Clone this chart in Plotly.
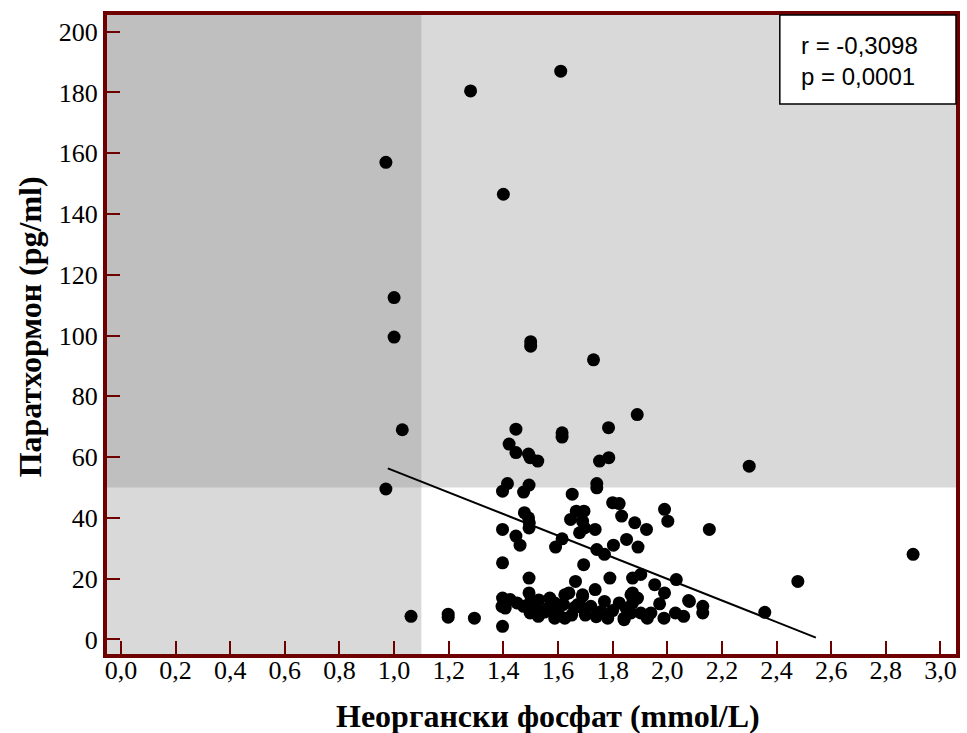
import plotly.graph_objects as go

# ---- data ----
phosphate = [
    0.97, 1.28, 1.40, 1.61, 1.00, 1.00, 1.50, 1.50, 1.73, 1.89,
    1.03, 1.785, 1.446, 1.615, 1.615, 1.421, 1.446, 1.492, 1.498, 1.526,
    1.752, 1.786, 2.30, 0.97, 1.415, 1.397, 1.494, 1.474, 1.742, 1.742,
    1.652, 1.80, 1.824, 1.833, 1.99, 2.002, 2.154, 1.477, 1.492, 1.495,
    1.494, 1.397, 1.446, 1.461, 1.667, 1.695, 1.646, 1.69, 1.697, 1.679,
    1.736, 1.881, 1.924, 1.851, 1.615, 1.591, 1.803, 1.893, 1.742, 1.77,
    2.90, 1.397, 1.694, 1.494, 1.664, 1.79, 1.873, 1.903, 1.954, 2.033,
    2.478, 1.64, 1.625, 1.736, 1.494, 1.69, 1.873, 1.99, 2.081, 2.13,
    2.13, 1.972, 1.062, 1.198, 1.198, 1.294, 1.397, 1.397, 1.425, 1.395,
    1.407, 1.474, 1.498, 1.528, 1.57, 1.588, 1.564, 1.588, 1.625, 1.69,
    1.673, 1.69, 1.72, 1.77, 1.782, 1.758, 1.842, 1.867, 1.867, 2.357,
    2.03, 2.06, 1.988, 1.927, 1.903, 1.94, 1.842, 1.891, 1.873, 1.824,
    1.849, 2.078, 1.52, 1.55, 1.60, 1.65, 1.70, 1.74, 1.80, 1.62,
    1.66, 1.45, 1.50, 1.53,
]
pth = [
    157, 180.5, 146.5, 187, 112.5, 99.5, 98, 96.5, 92, 74,
    69, 69.7, 69.2, 68, 66.6, 64.3, 61.5, 61, 59.8, 58.7,
    58.7, 59.8, 57, 49.5, 51.3, 48.8, 50.8, 48.5, 51.3, 49.9,
    47.8, 45, 44.7, 40.6, 42.8, 38.9, 36.2, 41.7, 40, 38.4,
    36.7, 36.2, 34, 31, 42.2, 42.2, 39.5, 38.9, 36.7, 35.1,
    36.2, 38.4, 36.2, 32.9, 33.1, 30.4, 31, 30.4, 29.6, 28,
    28, 25.2, 24.6, 20.2, 19.1, 20.2, 20.2, 21.4, 18, 19.7,
    19.1, 15.3, 14.7, 16.4, 15.3, 14.7, 15.3, 15.3, 12.5, 10.9,
    8.7, 11.7, 7.6, 7.3, 8.3, 7, 4.3, 13.6, 13.1, 10.9,
    10.3, 10.9, 8.7, 7.6, 13.6, 12, 10.3, 7, 7, 14.2,
    11.5, 10.3, 10.9, 12.5, 7, 9.2, 7, 8.7, 14.7, 8.9,
    8.7, 7.6, 7, 7, 8.7, 8.7, 6.5, 13.6, 12, 12,
    10.3, 12.8, 11, 9, 9.5, 8, 8, 7.5, 9.5, 11.5,
    10.5, 12, 12.5, 13,
]
fit_x = [0.977, 2.544]
fit_y = [56.3, 0.6]

x_ticks = [0.0, 0.2, 0.4, 0.6, 0.8, 1.0, 1.2, 1.4, 1.6, 1.8, 2.0, 2.2, 2.4, 2.6, 2.8, 3.0]
y_ticks = [0, 20, 40, 60, 80, 100, 120, 140, 160, 180, 200]
x_cut = 1.1
y_cut = 50
stats_text = "r = -0,3098<br>p = 0,0001"
x_title = "<b>Неоргански фосфат (mmol/L)</b>"
y_title = "<b>Паратхормон (pg/ml)</b>"

x_range = [-0.051, 3.057]
y_range = [-4.8, 205.5]

frame = "#6e0000"
serif = "Liberation Serif"
tick_font = dict(family="Liberation Serif", size=26, color="black")

fig = go.Figure()

# background zones
fig.add_shape(type="rect", x0=x_range[0], x1=x_cut, y0=y_cut, y1=y_range[1],
              fillcolor="#bfbfbf", line_width=0, layer="below")
fig.add_shape(type="rect", x0=x_cut, x1=x_range[1], y0=y_range[0], y1=y_cut,
              fillcolor="#ffffff", line_width=0, layer="below")

fig.add_trace(go.Scatter(x=phosphate, y=pth, mode="markers",
                         marker=dict(color="black", size=13, line_width=0),
                         showlegend=False, hoverinfo="x+y"))
fig.add_trace(go.Scatter(x=fit_x, y=fit_y, mode="lines",
                         line=dict(color="black", width=2),
                         showlegend=False, hoverinfo="skip"))

# stats box
fig.add_shape(type="rect", xref="paper", yref="paper",
              x0=(783 - 107) / 853, x1=1.0, y0=1 - (104 - 15) / 639, y1=1.0,
              fillcolor="white", line=dict(color="black", width=1.5))
fig.add_annotation(xref="paper", yref="paper", x=(802 - 107) / 853, y=1 - (61 - 15) / 639,
                   xanchor="left", yanchor="middle", align="left", showarrow=False,
                   text=stats_text,
                   font=dict(family="Liberation Sans", size=24, color="black"))

# axis titles
fig.add_annotation(xref="paper", yref="paper", x=(550 - 107) / 853, y=(654 - 716) / 639,
                   xanchor="center", yanchor="middle", showarrow=False, text=x_title,
                   font=dict(family=serif, size=32, color="black"))
fig.add_annotation(xref="paper", yref="paper", x=(30 - 107) / 853, y=(654 - 327) / 639,
                   xanchor="center", yanchor="middle", showarrow=False, text=y_title,
                   textangle=-90, font=dict(family=serif, size=32, color="black"))

fig.update_layout(
    width=967, height=733,
    margin=dict(l=107, r=7, t=15, b=79, pad=0),
    plot_bgcolor="#d9d9d9", paper_bgcolor="white",
    separators=", ",
    font=dict(family="Liberation Serif", size=26, color="black"),
    xaxis=dict(range=x_range, tickvals=x_ticks, tickformat=".1f",
               ticks="inside", ticklen=13, tickwidth=2, tickcolor=frame,
               showline=True, linewidth=4, linecolor=frame, mirror=True,
               showgrid=False, zeroline=False, ticklabelstandoff=-10,
               tickfont=tick_font),
    yaxis=dict(range=y_range, tickvals=y_ticks,
               ticks="inside", ticklen=13, tickwidth=2, tickcolor=frame,
               showline=True, linewidth=4, linecolor=frame, mirror=True,
               showgrid=False, zeroline=False,
               tickfont=tick_font),
)

fig.write_html("out.html")
